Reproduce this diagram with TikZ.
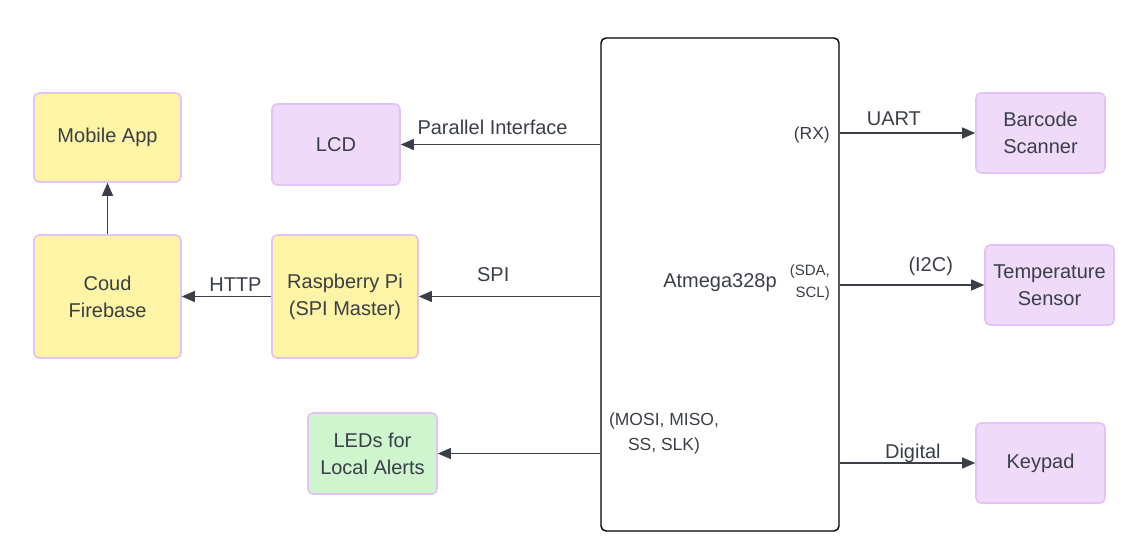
\documentclass[tikz,border=0pt]{standalone}
\usepackage{fontspec}
\setmainfont{Liberation Sans}
\usetikzlibrary{arrows.meta}
\definecolor{inkgray}{HTML}{3A3F47}
\definecolor{yellowfill}{HTML}{FEF4A5}
\definecolor{purplefill}{HTML}{EFDAFA}
\definecolor{purpleline}{HTML}{E4C2F5}
\definecolor{greenfill}{HTML}{CFF5CE}
\begin{document}
\begin{tikzpicture}[x=1pt,y=-1pt,
  font=\fontsize{20}{27}\selectfont, text=inkgray,
  box/.style={draw=purpleline, line width=1.6pt, rounded corners=5pt,
    align=center, inner sep=2pt},
  yellowbox/.style={box, fill=yellowfill},
  purplebox/.style={box, fill=purplefill},
  greenbox/.style={box, fill=greenfill},
  conn/.style={draw=inkgray, line width=1.1pt,
    -{Triangle[length=13pt,width=11pt]}},
  lbl/.style={anchor=base, inner sep=0pt}]
  \useasboundingbox (0,0) rectangle (1130,544);
  % microcontroller
  \node[draw=black, line width=1.4pt, rounded corners=5pt,
    minimum width=238pt, minimum height=493pt] (atm) at (720,284.5) {};
  \node (atmname) at (720,283) {Atmega328p};
  \node[anchor=east, inner sep=0pt, font=\fontsize{17.5}{20}\selectfont]
    (rx) at (830,135) {(RX)};
  \node[anchor=east, inner sep=0pt, align=right, font=\fontsize{15}{22}\selectfont]
    (i2cpins) at (830,283) {(SDA,\\SCL)};
  \node[inner sep=0pt, align=center, font=\fontsize{17.5}{25}\selectfont]
    (spipins) at (664,433) {(MOSI, MISO,\\SS, SLK)};
  % left side
  \node[yellowbox, minimum width=147pt, minimum height=89pt] (app) at (107.5,137.5) {Mobile App};
  \node[yellowbox, minimum width=147pt, minimum height=123pt] (fb) at (107.5,296.5) {Coud\\Firebase};
  \node[yellowbox, minimum width=146pt, minimum height=123pt] (rpi) at (345,296.5) {Raspberry Pi\\(SPI Master)};
  \node[purplebox, minimum width=128pt, minimum height=81pt] (lcd) at (336,144.5) {LCD};
  \node[greenbox, minimum width=129pt, minimum height=81pt] (leds) at (372.5,453.5) {LEDs for\\Local Alerts};
  % right side
  \node[purplebox, minimum width=129pt, minimum height=80pt] (scanner) at (1040.5,133) {Barcode\\Scanner};
  \node[purplebox, minimum width=129pt, minimum height=80pt] (temp) at (1049.5,285) {Temperature\\Sensor};
  \node[purplebox, minimum width=129pt, minimum height=80pt] (keypad) at (1040.5,463) {Keypad};
  % connectors
  \draw[conn] (atm.west |- lcd.east) -- (lcd.east)
    node[lbl, pos=0.54, yshift=10pt] (parlbl) {Parallel Interface};
  \draw[conn] (atm.west |- rpi.east) -- (rpi.east)
    node[lbl, pos=0.59, yshift=15pt] (spilbl) {SPI};
  \draw[conn] (atm.west |- leds.east) -- (leds.east);
  \draw[conn] (rpi.west) -- (fb.east)
    node[lbl, pos=0.4, yshift=5pt] (httplbl) {HTTP};
  \draw[conn] (fb.north) -- (app.south);
  \draw[conn] (atm.east |- scanner.west) -- (scanner.west)
    node[lbl, pos=0.4, yshift=8pt] (uartlbl) {UART};
  \draw[conn] (atm.east |- temp.west) -- (temp.west)
    node[lbl, pos=0.63, yshift=14pt] (i2clbl) {(I2C)};
  \draw[conn] (atm.east |- keypad.west) -- (keypad.west)
    node[lbl, pos=0.54, yshift=5pt] (diglbl) {Digital};
\end{tikzpicture}
\end{document}
